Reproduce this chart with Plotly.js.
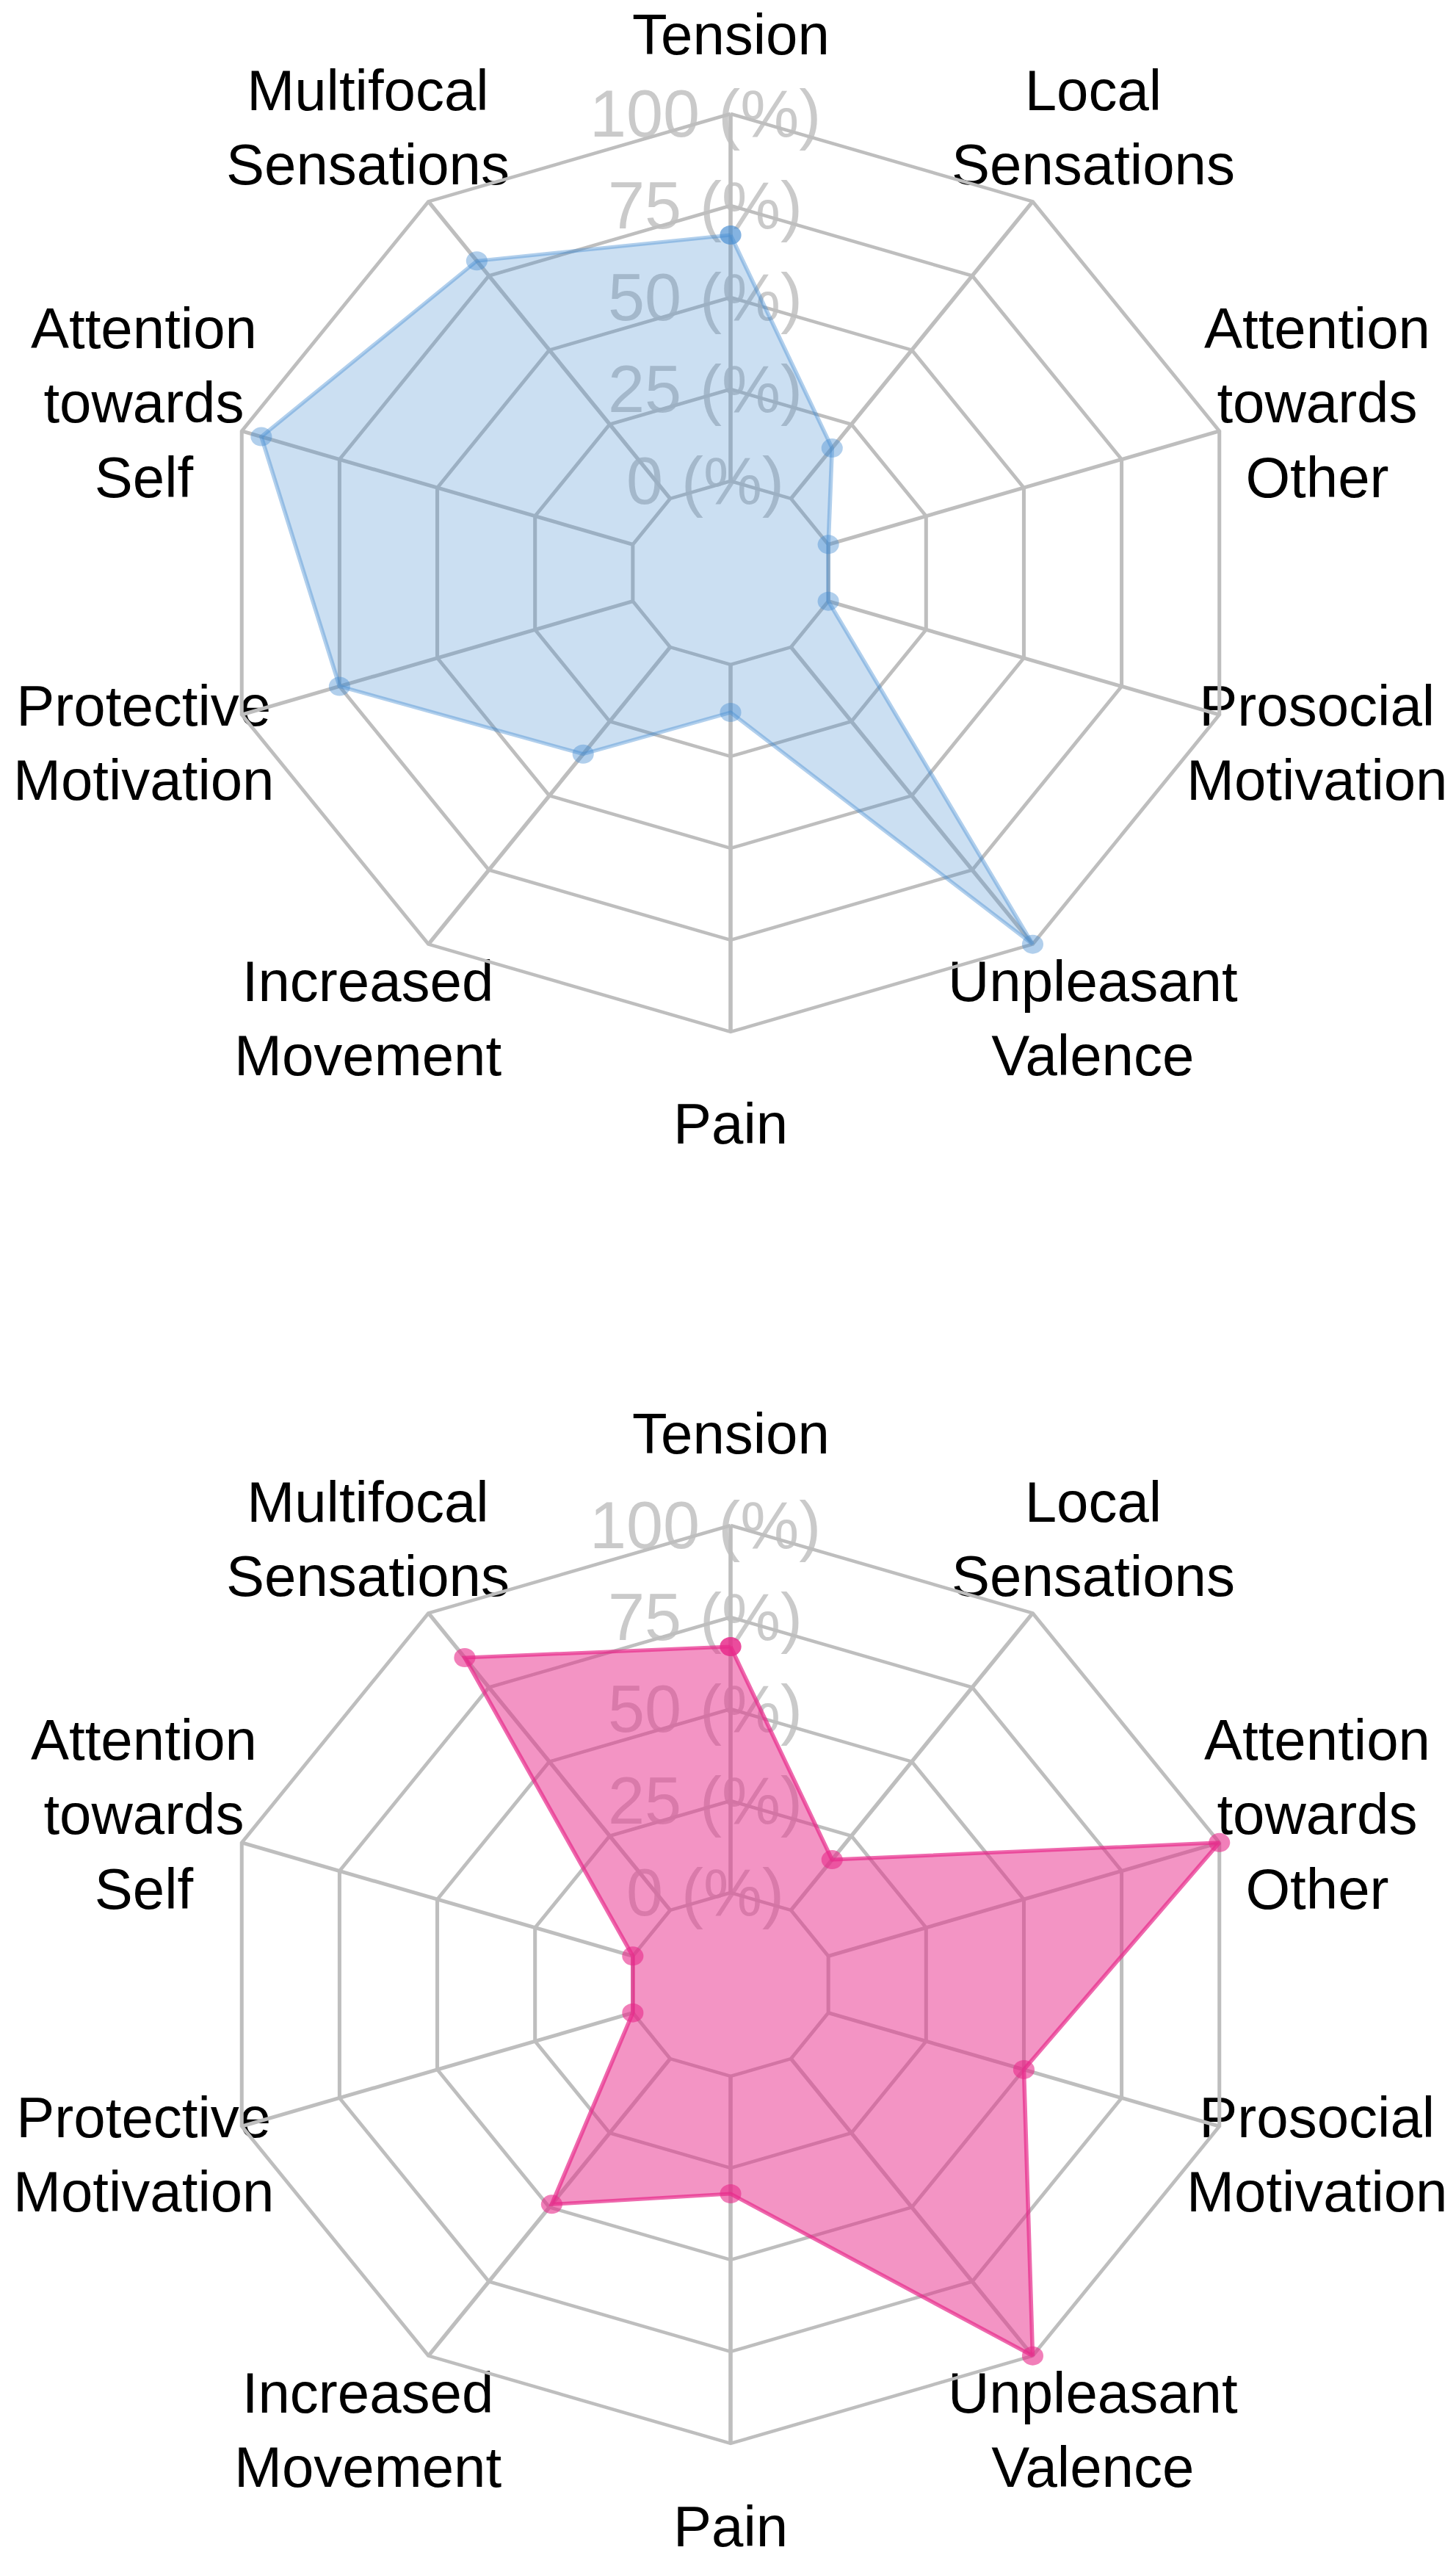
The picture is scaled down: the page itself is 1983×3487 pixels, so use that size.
<!DOCTYPE html>
<html>
<head>
<meta charset="utf-8">
<script src="https://cdn.plot.ly/plotly-3.0.1.min.js"></script>
<style>
html,body{margin:0;padding:0;background:#ffffff;}
#wrap{position:relative;width:1983px;height:3487px;overflow:hidden;background:#ffffff;}
#labels,#radar{position:absolute;left:0;top:0;width:1983px;height:3487px;}
#radar{transform:scaleX(1.12);transform-origin:995px 0;}
</style>
</head>
<body>
<div id="wrap"><div id="labels"></div><div id="radar"></div></div>
<script>
// ---- data (fmsb order: starts at top, goes counter-clockwise) ----
const categories = ["Tension","Multifocal Sensations","Attention towards Self","Protective Motivation","Increased Movement","Pain","Unpleasant Valence","Prosocial Motivation","Attention towards Other","Local Sensations"];
const categoryLabels = ["Tension","Multifocal<br>Sensations","Attention<br>towards<br>Self","Protective<br>Motivation","Increased<br>Movement","Pain","Unpleasant<br>Valence","Prosocial<br>Motivation","Attention<br>towards<br>Other","Local<br>Sensations"];
const topValues = [67, 80, 95, 75, 36, 13, 100, 0, 0, 17];
const bottomValues = [67, 85, 0, 0, 49, 32, 100, 50, 100, 17];
const radialTicks = [0, 25, 50, 75, 100];
const radialTickLabels = ["0 (%)", "25 (%)", "50 (%)", "75 (%)", "100 (%)"];

// ---- geometry / style ----
const W = 1983, H = 3487;
const CX = 995;
const CY_TOP = 780, CY_BOT = 2702;
const RY = 625;          // vertical radius of the 100 % ring
const STRETCH = 1.12;    // horizontal stretch of the radar (as in the original)
const RX = RY * STRETCH;
const GRID = '#bebebe';
const FONT = 'Liberation Sans, Arial, sans-serif';
// data subplot: no hole, 0 % sits on the inner ring at 1/5 of the 100 % radius (fmsb style);
// a little head-room beyond 100 % so the points on the outer ring are not clipped
const D_MIN = -25, D_MAX = 105;
const RD = RY * (D_MAX - D_MIN) / (100 - D_MIN);

function domainFor(cy, rad) {
  return {
    x: [(CX - rad) / W, (CX + rad) / W],
    y: [1 - (cy + rad) / H, 1 - (cy - rad) / H]
  };
}
const angular = (extra) => Object.assign({
  type: 'category', categoryarray: categories, rotation: 90,
  direction: 'counterclockwise', showticklabels: false, ticks: ''
}, extra);

// grid subplot: rings at the tick values, spokes start at the 0 ring
function gridPolar(cy) {
  return {
    domain: domainFor(cy, RY),
    hole: 0.2,
    gridshape: 'linear',
    bgcolor: 'rgba(0,0,0,0)',
    radialaxis: {
      range: [0, 100], tickvals: radialTicks, showticklabels: false, ticks: '',
      showline: false, gridcolor: GRID, gridwidth: 4.5
    },
    angularaxis: angular({
      showline: true, linecolor: GRID, linewidth: 4.5,
      gridcolor: GRID, gridwidth: 5
    })
  };
}

function dataPolar(cy) {
  return {
    domain: domainFor(cy, RD),
    gridshape: 'linear',
    bgcolor: 'rgba(0,0,0,0)',
    radialaxis: {range: [D_MIN, D_MAX], showgrid: false, showticklabels: false, ticks: '', showline: false},
    angularaxis: angular({showline: false, showgrid: false})
  };
}

function closed(arr) { return arr.concat([arr[0]]); }

function series(values, sub, fill, line, mark) {
  return {
    type: 'scatterpolar', subplot: sub, mode: 'lines+markers',
    r: closed(values), theta: closed(categories),
    fill: 'toself', fillcolor: fill,
    line: {color: line, width: 5},
    marker: {color: mark, size: 26},
    cliponaxis: true,
    hoverinfo: 'skip', showlegend: false
  };
}
function holder(sub) {
  return {type: 'scatterpolar', subplot: sub, mode: 'lines', r: [], theta: [],
          hoverinfo: 'skip', showlegend: false};
}

const traces = [
  holder('polar'), holder('polar2'),
  series(topValues, 'polar3', 'rgba(70,140,210,0.28)', 'rgba(70,140,210,0.42)', 'rgba(70,140,210,0.42)'),
  series(bottomValues, 'polar4', 'rgba(231,41,138,0.5)', 'rgba(231,41,138,0.7)', 'rgba(231,41,138,0.6)')
];

Plotly.newPlot('radar', traces, {
  width: W, height: H, margin: {l: 0, r: 0, t: 0, b: 0},
  paper_bgcolor: 'rgba(0,0,0,0)', plot_bgcolor: 'rgba(0,0,0,0)',
  polar: gridPolar(CY_TOP), polar2: gridPolar(CY_BOT),
  polar3: dataPolar(CY_TOP), polar4: dataPolar(CY_BOT),
  showlegend: false
}, {staticPlot: true});

// ---- text layer (drawn beneath the radar, like fmsb) ----
const annotations = [];
[CY_TOP, CY_BOT].forEach(cy => {
  categoryLabels.forEach((lab, i) => {
    const a = (90 + 360 * i / categories.length) * Math.PI / 180;
    let y = cy - 1.2 * RY * Math.sin(a);
    y = Math.min(Math.max(y, 47), H - 47);   // keep edge labels inside the picture
    annotations.push({
      x: CX + 1.2 * RX * Math.cos(a), y: y,
      xref: 'x', yref: 'y', text: lab, showarrow: false,
      xanchor: 'center', yanchor: 'middle', align: 'center',
      font: {family: FONT, size: 78, color: '#000000'}
    });
  });
  radialTickLabels.forEach((lab, i) => {
    annotations.push({
      x: CX - 0.05 * RX, y: cy - RY * (i + 1) / (radialTicks.length),
      xref: 'x', yref: 'y', text: lab, showarrow: false,
      xanchor: 'center', yanchor: 'middle',
      font: {family: FONT, size: 90, color: '#cacaca'}
    });
  });
});

Plotly.newPlot('labels', [], {
  width: W, height: H, margin: {l: 0, r: 0, t: 0, b: 0},
  paper_bgcolor: '#ffffff', plot_bgcolor: '#ffffff',
  xaxis: {range: [0, W], visible: false, fixedrange: true},
  yaxis: {range: [H, 0], visible: false, fixedrange: true},
  annotations: annotations, showlegend: false
}, {staticPlot: true});
</script>
</body>
</html>
